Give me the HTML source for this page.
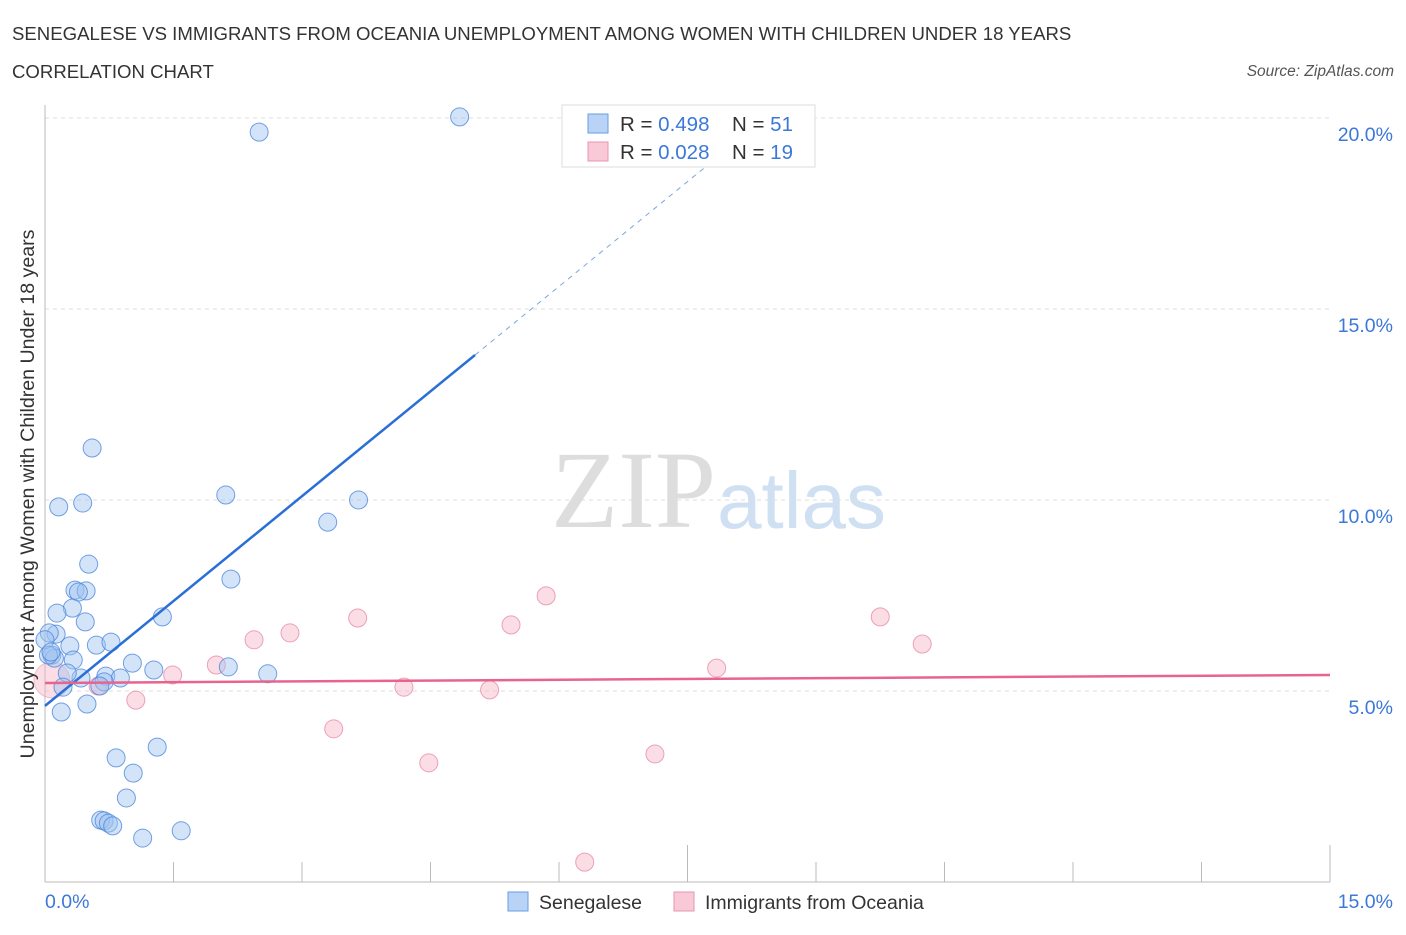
<!DOCTYPE html>
<html><head><meta charset="utf-8"><style>
body{margin:0;background:#fff;font-family:"Liberation Sans",sans-serif}
</style></head><body>
<svg width="1406" height="930" xmlns="http://www.w3.org/2000/svg">
<text x="12" y="40" font-size="18.6" fill="#333">SENEGALESE VS IMMIGRANTS FROM OCEANIA UNEMPLOYMENT AMONG WOMEN WITH CHILDREN UNDER 18 YEARS</text>
<text x="12" y="78" font-size="18.6" fill="#333">CORRELATION CHART</text>
<text x="1394" y="76" font-size="15.5" fill="#555" font-style="italic" text-anchor="end">Source: ZipAtlas.com</text>
<text x="716" y="527" font-size="110" fill="#ddd" text-anchor="end" font-family="Liberation Serif,serif">ZIP</text>
<text x="717" y="528" font-size="80" fill="#cfe0f3">atlas</text>
<g id="grid"></g>
<g id="marks"></g>
<text transform="translate(34,494) rotate(-90)" font-size="19.6" fill="#333" text-anchor="middle">Unemployment Among Women with Children Under 18 years</text>
<text x="45" y="908" font-size="19.5" fill="#3b78d8">0.0%</text>
<text x="1393" y="908" font-size="19.5" fill="#3b78d8" text-anchor="end">15.0%</text>
<g>
<rect x="562" y="105" width="253" height="62" fill="#fff" stroke="#ddd"/>
<rect x="588" y="114" width="20" height="19" fill="#b8d3f5" stroke="#6a9de0"/>
<rect x="588" y="142" width="20" height="19" fill="#f9c9d8" stroke="#e896b0"/>
<text x="620" y="131" font-size="20.5" fill="#333">R = <tspan fill="#3b78d8">0.498</tspan></text>
<text x="732" y="131" font-size="20.5" fill="#333">N = <tspan fill="#3b78d8">51</tspan></text>
<text x="620" y="159" font-size="20.5" fill="#333">R = <tspan fill="#3b78d8">0.028</tspan></text>
<text x="732" y="159" font-size="20.5" fill="#333">N = <tspan fill="#3b78d8">19</tspan></text>
</g>
<g>
<rect x="508" y="892" width="20" height="19" fill="#b8d3f5" stroke="#6a9de0"/>
<text x="539" y="909" font-size="19.5" fill="#333">Senegalese</text>
<rect x="674" y="892" width="20" height="19" fill="#f9c9d8" stroke="#e896b0"/>
<text x="705" y="909" font-size="19.5" fill="#333">Immigrants from Oceania</text>
</g>
</svg>
<script>
const yTicks=[5,10,15,20];
const xTickVals=[0,1.5,3,4.5,6,7.5,9,10.5,12,13.5,15];
const blueX=[2.50,4.84,0.55,2.11,0.16,0.44,3.66,3.30,0.51,2.17,0.35,0.48,0.39,0.32,0.14,1.37,0.47,0.13,0.05,0.60,0.77,0.29,0.08,0.11,0.33,1.02,1.27,2.14,2.60,0.71,0.88,0.42,0.26,0.69,0.64,0.21,0.49,0.19,0.83,1.31,1.03,0.95,0.65,0.69,0.74,0.79,1.14,1.59,0.00,0.04,0.07];
const blueY=[19.63,20.03,11.36,10.13,9.82,9.92,10.00,9.42,8.32,7.93,7.64,7.62,7.59,7.17,7.04,6.94,6.81,6.49,6.52,6.20,6.28,6.18,5.94,5.86,5.81,5.73,5.55,5.63,5.45,5.39,5.34,5.34,5.47,5.24,5.13,5.10,4.66,4.45,3.25,3.53,2.85,2.20,1.62,1.60,1.54,1.47,1.15,1.34,6.34,5.94,6.02];
const pinkX=[0.08,0.62,1.06,1.49,2.00,2.44,2.86,3.37,3.65,4.19,4.48,5.19,5.44,5.85,6.30,7.12,7.84,9.75,10.24];
const pinkY=[5.29,5.13,4.76,5.42,5.68,6.34,6.52,4.01,6.91,5.10,3.12,5.03,6.73,7.49,0.52,3.35,5.60,6.94,6.23];
const blueLine=[4.61,1.83];
const pinkLine=[5.21,0.014];
const NS='http://www.w3.org/2000/svg';
const X=v=>45+v/15*1285, Y=v=>882-v*38.2;
function mk(p,t,a){const e=document.createElementNS(NS,t);for(const k in a)e.setAttribute(k,a[k]);p.appendChild(e);return e;}
const g=document.getElementById('grid'), m=document.getElementById('marks');
for(const t of yTicks){
 const l=mk(g,'line',{x1:45,x2:1330,y1:Y(t),y2:Y(t),stroke:'#ddd','stroke-dasharray':'4,4'});
 
 
 const tx=mk(g,'text',{x:1393,y:Y(t)+23,'font-size':19.5,fill:'#3b78d8','text-anchor':'end'});
 tx.textContent=t.toFixed(1)+'%';
 
 
}
const ax=mk(g,'line',{x1:45,x2:45,y1:105,y2:882,stroke:'#bbb'});


const bx=mk(g,'line',{x1:45,x2:1330,y1:882,y2:882,stroke:'#bbb'});


xTickVals.forEach((v,i)=>{const tk=mk(g,'line',{x1:X(v),x2:X(v),y1:(i%5==0)?845:862,y2:882,stroke:'#bbb'});
 
 });
const big=mk(m,'circle',{cx:X(pinkX[0]),cy:Y(pinkY[0]),r:18,fill:'rgba(246,180,200,0.45)',stroke:'rgba(232,140,170,0.5)'});


for(let i=1;i<pinkX.length;i++){const c=mk(m,'circle',{cx:X(pinkX[i]),cy:Y(pinkY[i]),r:9,fill:'rgba(246,180,200,0.45)',stroke:'rgba(232,140,170,0.8)'});
 
 }
for(let i=0;i<blueX.length;i++){const c=mk(m,'circle',{cx:X(blueX[i]),cy:Y(blueY[i]),r:9,fill:'rgba(160,195,240,0.45)',stroke:'rgba(70,130,220,0.75)'});
 
 }
const bl=mk(m,'line',{x1:X(0),y1:Y(blueLine[0]),x2:X(5.02),y2:Y(blueLine[0]+blueLine[1]*5.02),stroke:'#2a6fd6','stroke-width':2.5});


const bd=mk(m,'line',{x1:X(5.02),y1:Y(blueLine[0]+blueLine[1]*5.02),x2:X(7.9),y2:Y(blueLine[0]+blueLine[1]*7.9),stroke:'#7aa6e0','stroke-width':1,'stroke-dasharray':'5,5'});


const pl=mk(m,'line',{x1:X(0),y1:Y(pinkLine[0]),x2:X(15),y2:Y(pinkLine[0]+pinkLine[1]*15),stroke:'#e8648f','stroke-width':2.5});


</script>
</body></html>
